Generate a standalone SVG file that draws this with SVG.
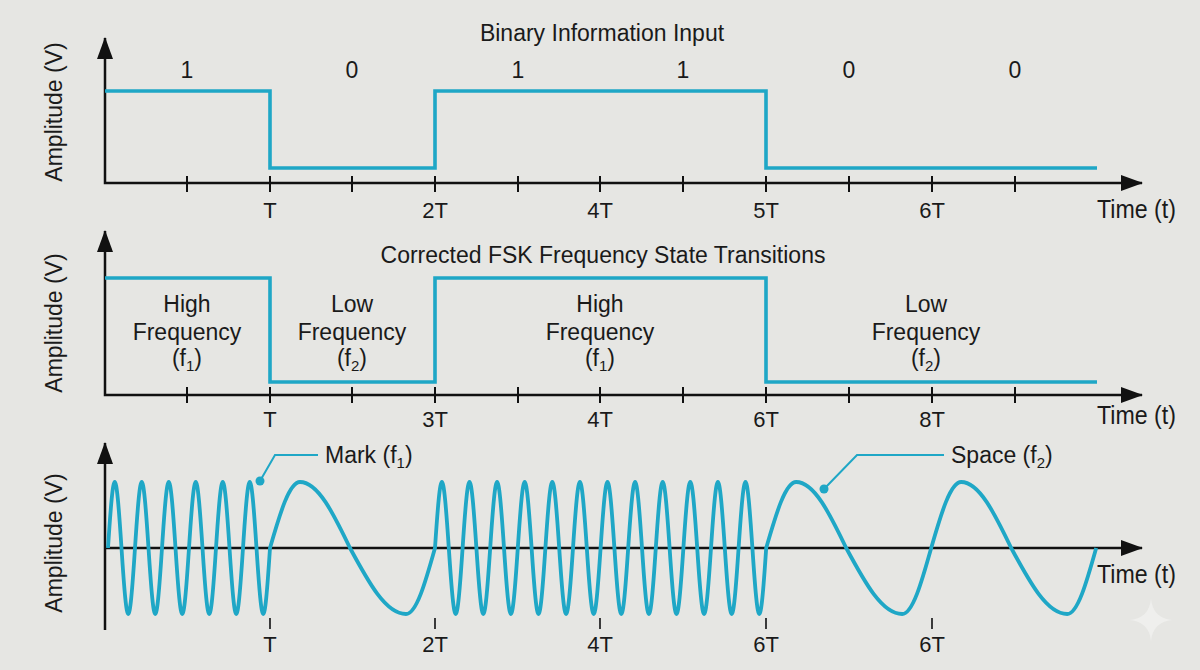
<svg xmlns="http://www.w3.org/2000/svg" width="1200" height="670" viewBox="0 0 1200 670">
<style>
.ax{stroke:#111;stroke-width:2.5;fill:none}
.tk{stroke:#111;stroke-width:2;fill:none}
.tks{stroke:#111;stroke-width:1.6;fill:none}
.sig{stroke:#1fa7c6;stroke-width:3.6;fill:none;stroke-linejoin:miter}
.wave{stroke:#1fa7c6;stroke-width:3.8;fill:none;stroke-linejoin:round}
.lead{stroke:#1fa7c6;stroke-width:2;fill:none}
.t{font-family:"Liberation Sans",Arial,Helvetica,sans-serif;font-size:23px;fill:#1a1a1a}
.s{font-family:"Liberation Sans",Arial,Helvetica,sans-serif;font-size:22px;fill:#1a1a1a;text-anchor:middle}
.tm{font-family:"Liberation Sans",Arial,Helvetica,sans-serif;font-size:26px;fill:#1a1a1a}
.c{text-anchor:middle}
</style>
<defs>
<marker id="arr" viewBox="0 0 22 16" refX="21" refY="8" markerWidth="22" markerHeight="16" markerUnits="userSpaceOnUse" orient="auto-start-reverse">
<path d="M0,0 L22,8 L0,16 z" fill="#111"/>
</marker>
</defs>
<rect width="1200" height="670" fill="#e6e6e3"/>

<g id="panel-top">
<text class="t c" x="602" y="41">Binary Information Input</text>
<text class="t c" transform="translate(62,112) rotate(-90)">Amplitude (V)</text>
<path class="ax" d="M105,38 V183 H1142" marker-start="url(#arr)" marker-end="url(#arr)"/>
<path class="tk" d="M187,176 V192 M270,176 V192 M352,176 V192 M435,176 V192 M518,176 V192 M600,176 V192 M683,176 V192 M766,176 V192 M849,176 V192 M932,176 V192 M1015,176 V192"/>
<g class="t c">
<text x="187" y="78">1</text>
<text x="352" y="78">0</text>
<text x="518" y="78">1</text>
<text x="683" y="78">1</text>
<text x="849" y="78">0</text>
<text x="1015" y="78">0</text>
</g>
<path class="sig" d="M105,91 H270 V168 H435 V91 H766 V168 H1097"/>
<g class="s">
<text x="270" y="218">T</text>
<text x="435" y="218">2T</text>
<text x="600" y="218">4T</text>
<text x="766" y="218">5T</text>
<text x="932" y="218">6T</text>
</g>
<text class="tm" x="1097" y="218" textLength="79" lengthAdjust="spacingAndGlyphs">Time (t)</text>
</g>

<g id="panel-mid">
<text class="t c" x="603" y="263">Corrected FSK Frequency State Transitions</text>
<text class="t c" transform="translate(62,323) rotate(-90)">Amplitude (V)</text>
<path class="ax" d="M105,231 V395 H1142" marker-start="url(#arr)" marker-end="url(#arr)"/>
<path class="tk" d="M187,387 V403 M270,387 V403 M352,387 V403 M435,387 V403 M518,387 V403 M600,387 V403 M683,387 V403 M766,387 V403 M849,387 V403 M932,387 V403 M1015,387 V403"/>
<path class="sig" d="M105,278 H270 V382 H435 V278 H766 V382 H1097"/>
<g class="t c">
<text x="187" y="312">High</text>
<text x="187" y="340">Frequency</text>
<text x="187" y="366">(f<tspan font-size="15" dy="5">1</tspan><tspan dy="-5">)</tspan></text>
<text x="352" y="312">Low</text>
<text x="352" y="340">Frequency</text>
<text x="352" y="366">(f<tspan font-size="15" dy="5">2</tspan><tspan dy="-5">)</tspan></text>
<text x="600" y="312">High</text>
<text x="600" y="340">Frequency</text>
<text x="600" y="366">(f<tspan font-size="15" dy="5">1</tspan><tspan dy="-5">)</tspan></text>
<text x="926" y="312">Low</text>
<text x="926" y="340">Frequency</text>
<text x="926" y="366">(f<tspan font-size="15" dy="5">2</tspan><tspan dy="-5">)</tspan></text>
</g>
<g class="s">
<text x="270" y="427">T</text>
<text x="435" y="427">3T</text>
<text x="600" y="427">4T</text>
<text x="766" y="427">6T</text>
<text x="932" y="427">8T</text>
</g>
<text class="tm" x="1097" y="424" textLength="79" lengthAdjust="spacingAndGlyphs">Time (t)</text>
</g>

<g id="panel-bottom">
<text class="t c" transform="translate(62,543) rotate(-90)">Amplitude (V)</text>
<path class="ax" d="M105,630 V443" marker-end="url(#arr)"/>
<path class="ax" d="M105,548 H1142" marker-end="url(#arr)"/>
<path class="tks" d="M270,618 V629 M435,618 V629 M600,618 V629 M766,618 V629 M932,618 V629"/>
<path class="wave" d="M108,548
c5.73,-88 7.77,-88 13.5,0 c5.73,88 7.77,88 13.5,0
c5.73,-88 7.77,-88 13.5,0 c5.73,88 7.77,88 13.5,0
c5.73,-88 7.77,-88 13.5,0 c5.73,88 7.77,88 13.5,0
c5.73,-88 7.77,-88 13.5,0 c5.73,88 7.77,88 13.5,0
c5.73,-88 7.77,-88 13.5,0 c5.73,88 7.77,88 13.5,0
c5.73,-88 7.77,-88 13.5,0 c5.73,88 7.77,88 13.5,0
c9.9,-34.3 19.2,-66 30,-66 c18,0 33.5,31.7 50,66 c18.5,34.3 35.8,66 56,66 c10.4,0 19.4,-31.7 29,-66
c5.86,-88 7.94,-88 13.8,0 c5.86,88 7.94,88 13.8,0
c5.86,-88 7.94,-88 13.8,0 c5.86,88 7.94,88 13.8,0
c5.86,-88 7.94,-88 13.8,0 c5.86,88 7.94,88 13.8,0
c5.86,-88 7.94,-88 13.8,0 c5.86,88 7.94,88 13.8,0
c5.86,-88 7.94,-88 13.8,0 c5.86,88 7.94,88 13.8,0
c5.86,-88 7.94,-88 13.8,0 c5.86,88 7.94,88 13.8,0
c5.86,-88 7.94,-88 13.8,0 c5.86,88 7.94,88 13.8,0
c5.86,-88 7.94,-88 13.8,0 c5.86,88 7.94,88 13.8,0
c5.86,-88 7.94,-88 13.8,0 c5.86,88 7.94,88 13.8,0
c5.86,-88 7.94,-88 13.8,0 c5.86,88 7.94,88 13.8,0
c5.86,-88 7.94,-88 13.8,0 c5.86,88 7.94,88 13.8,0
c5.86,-88 7.94,-88 13.8,0 c5.86,88 7.94,88 13.8,0
c9.9,-34.3 19.2,-66 30,-66 c18,0 33.5,31.7 50,66 c18.5,34.3 35.8,66 56,66 c10.4,0 19.4,-31.7 29,-66
c9.9,-34.3 19.2,-66 30,-66 c18,0 33.5,31.7 50,66 c18.5,34.3 35.8,66 56,66 c10.4,0 19.4,-31.7 29,-66"/>
<g id="mark-label">
<path class="lead" d="M260,481 L275,455 H318"/>
<circle cx="260" cy="481" r="4.5" fill="#1fa7c6"/>
<text class="t" x="325" y="463">Mark (f<tspan font-size="15" dy="5">1</tspan><tspan dy="-5">)</tspan></text>
</g>
<g id="space-label">
<path class="lead" d="M824,489 L857,455 H944"/>
<circle cx="824" cy="489" r="4.5" fill="#1fa7c6"/>
<text class="t" x="951" y="463">Space (f<tspan font-size="15" dy="5">2</tspan><tspan dy="-5">)</tspan></text>
</g>
<g class="s">
<text x="270" y="652">T</text>
<text x="435" y="652">2T</text>
<text x="600" y="652">4T</text>
<text x="766" y="652">6T</text>
<text x="932" y="652">6T</text>
</g>
<text class="tm" x="1097" y="583" textLength="79" lengthAdjust="spacingAndGlyphs">Time (t)</text>
</g>

<path id="sparkle" d="M1151,599 Q1153,618 1172,620 Q1153,622 1151,641 Q1149,622 1130,620 Q1149,618 1151,599 Z" fill="#efefed"/>
</svg>
